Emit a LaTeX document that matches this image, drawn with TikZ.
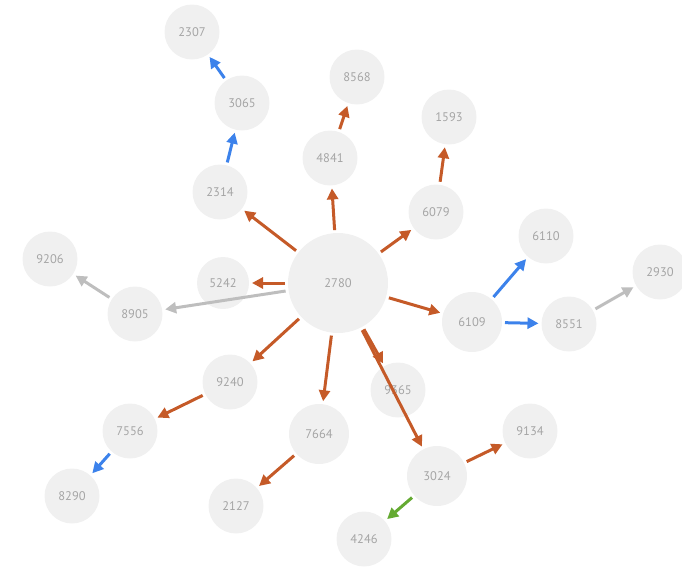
\documentclass[tikz,border=0pt]{standalone}
\usepackage{fontspec}
\setmainfont{PT Sans}
\usetikzlibrary{arrows.meta}
\definecolor{nodefill}{RGB}{240,240,240}
\definecolor{nodetext}{RGB}{165,165,165}
\definecolor{eorange}{RGB}{197,90,40}
\definecolor{eblue}{RGB}{60,130,235}
\definecolor{egray}{RGB}{190,190,190}
\definecolor{egreen}{RGB}{100,170,50}
\tikzset{
  vnode/.style={circle, fill=nodefill, draw=none, minimum size=55pt, inner sep=0pt, outer sep=0pt,
    text=nodetext, font=\fontsize{12.5}{14}\selectfont},
  big/.style={minimum size=100pt},
  mid/.style={minimum size=60pt},
  small/.style={minimum size=52pt},
  edge/.style={line width=3pt, -{Triangle[length=11pt,width=11pt]}, shorten >=3pt, shorten <=3pt},
  eo/.style={edge, draw=eorange, fill=eorange},
  eb/.style={edge, draw=eblue, fill=eblue},
  eg/.style={edge, draw=egray, fill=egray},
  en/.style={edge, draw=egreen, fill=egreen},
}
\begin{document}
\begin{tikzpicture}[x=1pt,y=-1pt]
\useasboundingbox (0,0) rectangle (682,568);
\node[vnode] (n2307) at (192,32) {2307};
\node[vnode] (n3065) at (242,103) {3065};
\node[vnode] (n8568) at (357,77) {8568};
\node[vnode] (n1593) at (449,117) {1593};
\node[vnode] (n4841) at (330,158) {4841};
\node[vnode] (n2314) at (220,192) {2314};
\node[vnode] (n6079) at (436,212) {6079};
\node[vnode] (n6110) at (546,236) {6110};
\node[vnode] (n9206) at (50,259) {9206};
\node[vnode,small] (n5242) at (223,283) {5242};
\node[vnode,big] (n2780) at (338,283) {2780};
\node[vnode] (n2930) at (660,272) {2930};
\node[vnode] (n8905) at (135,314) {8905};
\node[vnode,mid] (n6109) at (472,322) {6109};
\node[vnode] (n8551) at (569,324) {8551};
\node[vnode] (n9240) at (230,382) {9240};
\node[vnode] (n9365) at (398,390) {9365};
\node[vnode] (n7556) at (130,431) {7556};
\node[vnode,mid] (n7664) at (319,434) {7664};
\node[vnode] (n9134) at (530,431) {9134};
\node[vnode,mid] (n3024) at (437,476) {3024};
\node[vnode] (n8290) at (72,496) {8290};
\node[vnode] (n2127) at (236,506) {2127};
\node[vnode] (n4246) at (364,539) {4246};

\draw[eo] (n2780) -- (n4841);
\draw[eo] (n4841) -- (n8568);
\draw[eo] (n2780) -- (n6079);
\draw[eo] (n6079) -- (n1593);
\draw[eo] (n2780) -- (n2314);
\draw[eb] (n2314) -- (n3065);
\draw[eb] (n3065) -- (n2307);
\draw[eo] (n2780) -- (n5242);
\draw[eg] (n2780) -- (n8905);
\draw[eg] (n8905) -- (n9206);
\draw[eo] (n2780) -- (n6109);
\draw[eb] (n6109) -- (n6110);
\draw[eb] (n6109) -- (n8551);
\draw[eg] (n8551) -- (n2930);
\draw[eo] (n2780) -- (n9240);
\draw[eo] (n9240) -- (n7556);
\draw[eb] (n7556) -- (n8290);
\draw[eo] (n2780) -- (n7664);
\draw[eo] (n7664) -- (n2127);
\draw[eo] (n2780) -- (n9365);
\draw[eo] (n2780) -- (n3024);
\draw[eo] (n3024) -- (n9134);
\draw[en] (n3024) -- (n4246);
\end{tikzpicture}
\end{document}
